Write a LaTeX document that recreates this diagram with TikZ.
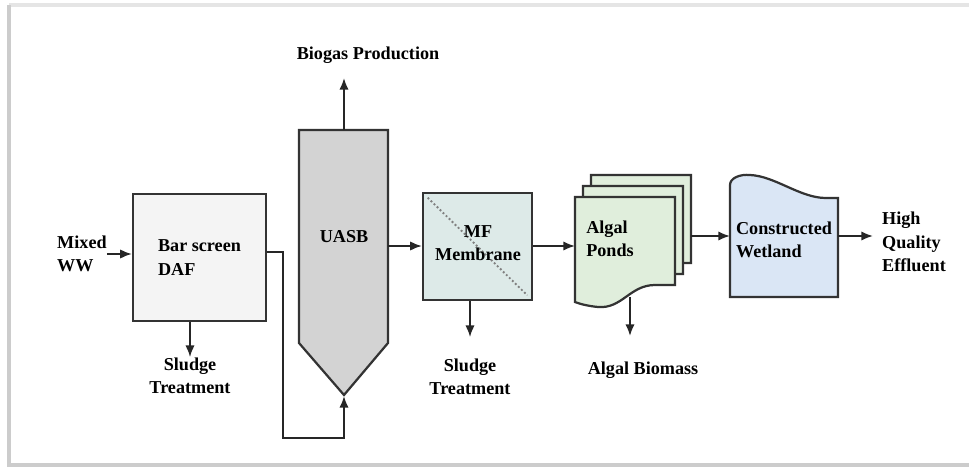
\documentclass[tikz,border=0pt]{standalone}
\usepackage{fontspec}
\setmainfont{Liberation Serif}
\usetikzlibrary{arrows.meta}
\definecolor{barfill}{HTML}{F4F4F4}
\definecolor{uasbfill}{HTML}{D3D3D3}
\definecolor{mffill}{HTML}{DDEAE8}
\definecolor{pondfill}{HTML}{E0EEDC}
\definecolor{wetfill}{HTML}{DAE6F5}

\begin{document}
\begin{tikzpicture}[x=0.03cm,y=-0.03cm,>={Latex[length=10pt,width=8pt]}]
\tikzstyle{every node}=[font=\bfseries\fontsize{15.5}{20}\selectfont,inner sep=0,align=center]
\tikzstyle{unit}=[draw=black!80,line width=1.9pt]
\tikzstyle{flow}=[draw=black!85,line width=1.6pt,->]
\useasboundingbox (0,0) rectangle (969,468);
% frame
\draw[gray!20,line width=4pt] (975,5) -- (9,5);
\draw[gray!40,line width=4pt] (9,5) -- (9,465) -- (975,465);

% units
\node[unit,fill=barfill,minimum width=3.99cm,minimum height=3.81cm,align=left] (bar) at (199.5,257.5) {Bar screen\\DAF};
\draw[unit,fill=uasbfill] (299,130) -- (388,130) -- (388,343) -- (344,395) -- (299,343) -- cycle;
\node (uasb) at (344,237) {UASB};
\coordinate (uasbtop) at (344,130);
\coordinate (uasbtip) at (344,396);
\coordinate (uasbout) at (388,246);
\node[unit,fill=mffill,minimum width=3.27cm,minimum height=3.21cm] (mf) at (477.5,246.5) {};
\draw[dotted,gray,line width=1.6pt] ([shift={(5pt,-5pt)}]mf.north west) -- ([shift={(-5pt,5pt)}]mf.south east);
\node (mftext) at (478,243) {MF\\Membrane};
\foreach \d in {2,1,0}
{
  \begin{scope}[shift={(8*\d,-11*\d)}]
  \draw[unit,fill=pondfill] (575,197) -- (675,197) -- (675,285) -- (655,285)
    .. controls (630,285) and (622,309) .. (598,307)
    .. controls (588,306) and (580,304) .. (575,302) -- cycle;
  \end{scope}
}
\node[align=left] (ponds) at (610,239) {Algal\\Ponds};
\coordinate (pondin) at (575,246);
\coordinate (pondout) at (691,236);
\coordinate (pondbot) at (630,297);
\draw[unit,fill=wetfill] (730,297) -- (730,185) .. controls (730,178) and (740,174) .. (750,175)
  .. controls (775,176) and (800,198) .. (826,198) -- (838,198) -- (838,297) -- cycle;
\node[align=left] (wetland) at (784,240) {Constructed\\Wetland};
\coordinate (wetin) at (730,236);
\coordinate (wetout) at (838,236);

% labels
\node[align=left,anchor=west] (mixed) at (57,254) {Mixed\\WW};
\node (biogas) at (368,55) {Biogas Production};
\node (sludgeA) at (190,376) {Sludge\\Treatment};
\node (sludgeB) at (470,377) {Sludge\\Treatment};
\node (biomass) at (643,370) {Algal Biomass};
\node[align=left,anchor=west] (effluent) at (882,242) {High\\Quality\\Effluent};
\coordinate (gasout) at (344,78);
\coordinate (bend) at (283,438);
\coordinate (effin) at (873,236);

% flows
\draw[flow] (mixed.east) -- (mixed.east -| bar.west);
\draw[flow] ([yshift=5pt]bar.east) -| (bend) -| (uasbtip);
\draw[flow] (uasbtop) -- (gasout);
\draw[flow] (uasbout) -- (uasbout -| mf.west);
\draw[flow] (uasbout -| mf.east) -- (pondin);
\draw[flow] (pondout) -- (wetin);
\draw[flow] (wetout) -- (effin);
\draw[flow] (bar.south -| sludgeA) -- ++(0,35);
\draw[flow] (mf.south -| sludgeB) -- ++(0,36);
\draw[flow] (pondbot) -- ++(0,39);
\end{tikzpicture}
\end{document}
